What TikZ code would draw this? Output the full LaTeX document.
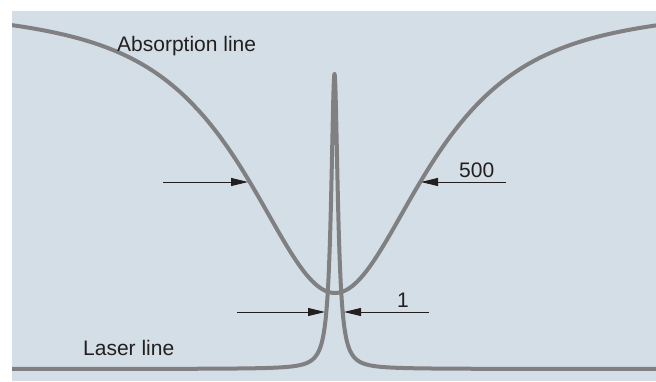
\documentclass[tikz,border=0pt]{standalone}
\usepackage{fontspec}
\setmainfont{Liberation Sans}
\usetikzlibrary{arrows.meta}
\definecolor{bgc}{RGB}{212,222,230}
\definecolor{curvec}{RGB}{128,128,130}
\definecolor{ink}{RGB}{35,31,32}
\begin{document}
\begin{tikzpicture}[x=1pt,y=-1pt,
  curve/.style={draw=curvec,line width=4pt,line join=round},
  dimarrow/.style={draw=ink,line width=0.9pt,-{Triangle[length=17pt,width=8pt]}},
  lbl/.style={anchor=base west,inner sep=0pt,text=ink,font=\fontsize{21}{25}\selectfont}]
\useasboundingbox (0,0) rectangle (656,381);
\fill[bgc] (12,11) rectangle (656,381);
\begin{scope}
  \clip (12,11) rectangle (656,381);
  % absorption line (pseudo-Voigt profile)
  \draw[curve] plot[domain=12:656,samples=400]
    (\x,{293*(0.85/(1+((\x-335)/108)^2)+0.15*exp(-0.6931*((\x-335)/108)^2))});
  % laser line (Lorentzian profile)
  \draw[curve] plot[domain=-89.3:89.3,samples=601]
    ({334.5+4*tan(\x)},{369-295*cos(\x)*cos(\x)});
\end{scope}
\node[lbl] (abs) at (117,51) {Absorption line};
\node[lbl] (laser) at (83,355) {Laser line};
\node[lbl] (w500) at (459,177) {500};
\node[lbl] (w1) at (397,307) {1};
\coordinate (a1s) at (163,182); \coordinate (a1e) at (248,182);
\coordinate (a2s) at (506,182); \coordinate (a2e) at (421,182);
\coordinate (b1s) at (237,312); \coordinate (b1e) at (325,312);
\coordinate (b2s) at (429,312); \coordinate (b2e) at (344,312);
\draw[dimarrow] (a1s) -- (a1e);
\draw[dimarrow] (a2s) -- (a2e);
\draw[dimarrow] (b1s) -- (b1e);
\draw[dimarrow] (b2s) -- (b2e);
\end{tikzpicture}
\end{document}
